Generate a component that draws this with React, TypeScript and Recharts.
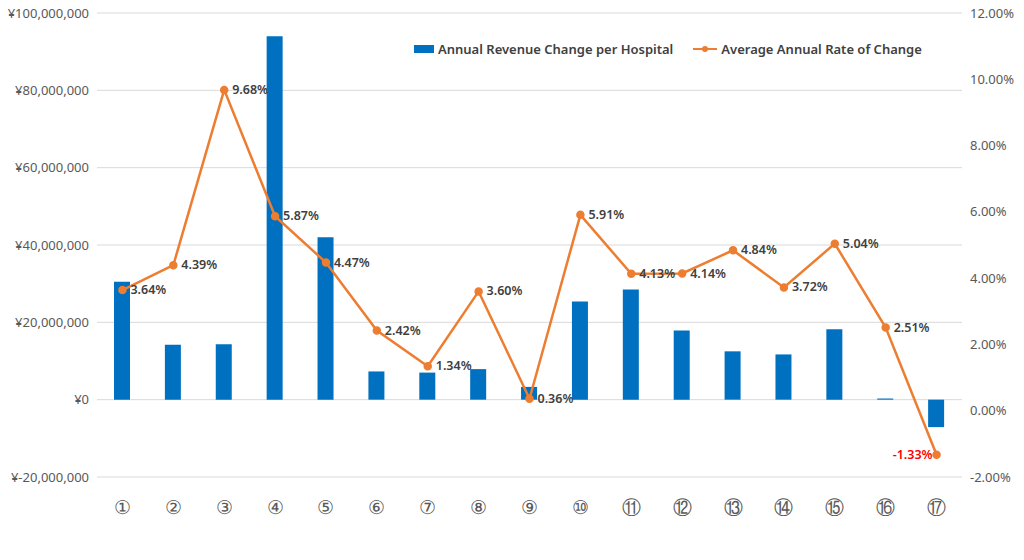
import React from 'react';
import { ComposedChart, Bar, Line, XAxis, YAxis, CartesianGrid, LabelList } from 'recharts';

const categories = ['①', '②', '③', '④', '⑤', '⑥', '⑦', '⑧', '⑨', '⑩', '⑪', '⑫', '⑬', '⑭', '⑮', '⑯', '⑰'];
const revenueChange = [
  30500000, 14200000, 14300000, 94000000, 42000000, 7300000, 7000000, 7900000, 3300000,
  25400000, 28500000, 17900000, 12500000, 11700000, 18200000, 300000, -7100000,
];
const rateOfChange = [3.64, 4.39, 9.68, 5.87, 4.47, 2.42, 1.34, 3.6, 0.36, 5.91, 4.13, 4.14, 4.84, 3.72, 5.04, 2.51, -1.33];
const leftTicks = [-20000000, 0, 20000000, 40000000, 60000000, 80000000, 100000000];
const rightTicks = [-2, 0, 2, 4, 6, 8, 10, 12];

const data = categories.map((c, i) => ({ name: c, revenue: revenueChange[i], rate: rateOfChange[i] }));

const FONT = '"Noto Sans", "Liberation Sans", sans-serif';

const fmtYen = (v: number) => (v < 0 ? '¥-' : '¥') + Math.abs(v).toLocaleString('en-US');

const RateLabel = (props: any) => {
  const { x, y, value } = props;
  const neg = value < 0;
  return (
    <text
      x={neg ? x - 4 : x + 8}
      y={y}
      dy={4}
      textAnchor={neg ? 'end' : 'start'}
      fontSize={12.5}
      fontWeight={600}
      fill={neg ? '#ff0000' : '#404040'}
      fontFamily={FONT}
    >
      {value.toFixed(2) + '%'}
    </text>
  );
};

export default function App() {
  return (
    <div style={{ position: 'absolute', left: 0, top: 0, width: 1024, height: 560, background: '#fff', fontFamily: FONT }}>
      <ComposedChart width={1024} height={560} data={data} margin={{ top: 13, right: 0, bottom: 0, left: 0 }}>
        <CartesianGrid vertical={false} stroke="#d9d9d9" yAxisId="left" />
        <XAxis
          dataKey="name"
          height={83}
          axisLine={false}
          tickLine={false}
          tick={{ fontSize: 19, fill: '#595959', fontFamily: FONT }}
          dy={16}
          interval={0}
        />
        <YAxis
          yAxisId="left"
          width={97}
          domain={[-20000000, 100000000]}
          ticks={leftTicks}
          tickFormatter={fmtYen}
          axisLine={false}
          tickLine={false}
          tick={{ fontSize: 13, fill: '#595959', fontFamily: FONT }}
        />
        <YAxis
          yAxisId="right"
          orientation="right"
          width={62}
          domain={[-2, 12]}
          ticks={rightTicks}
          tickFormatter={(v: number) => v.toFixed(2) + '%'}
          axisLine={false}
          tickLine={false}
          tick={{ fontSize: 13, fill: '#595959', fontFamily: FONT }}
        />
        <Bar yAxisId="left" dataKey="revenue" fill="#0070c0" barSize={16} isAnimationActive={false} />
        <Line
          yAxisId="right"
          dataKey="rate"
          stroke="#ed7d31"
          strokeWidth={2.5}
          dot={{ r: 3, fill: '#ed7d31', stroke: '#ed7d31' }}
          isAnimationActive={false}
        >
          <LabelList dataKey="rate" content={RateLabel} />
        </Line>
      </ComposedChart>
      <div style={{ position: 'absolute', left: 414, top: 40, display: 'flex', alignItems: 'center', fontSize: 13, fontWeight: 600, color: '#404040' }}>
        <span style={{ display: 'inline-block', width: 20, height: 8, background: '#0070c0', marginRight: 4 }} />
        <span>Annual Revenue Change per Hospital</span>
        <span style={{ position: 'relative', display: 'inline-block', width: 24, height: 8, marginLeft: 20, marginRight: 4 }}>
          <span style={{ position: 'absolute', left: 0, top: 3, width: 24, height: 2, background: '#ed7d31' }} />
          <span style={{ position: 'absolute', left: 9, top: 1, width: 6, height: 6, borderRadius: 3, background: '#ed7d31' }} />
        </span>
        <span>Average Annual Rate of Change</span>
      </div>
    </div>
  );
}
